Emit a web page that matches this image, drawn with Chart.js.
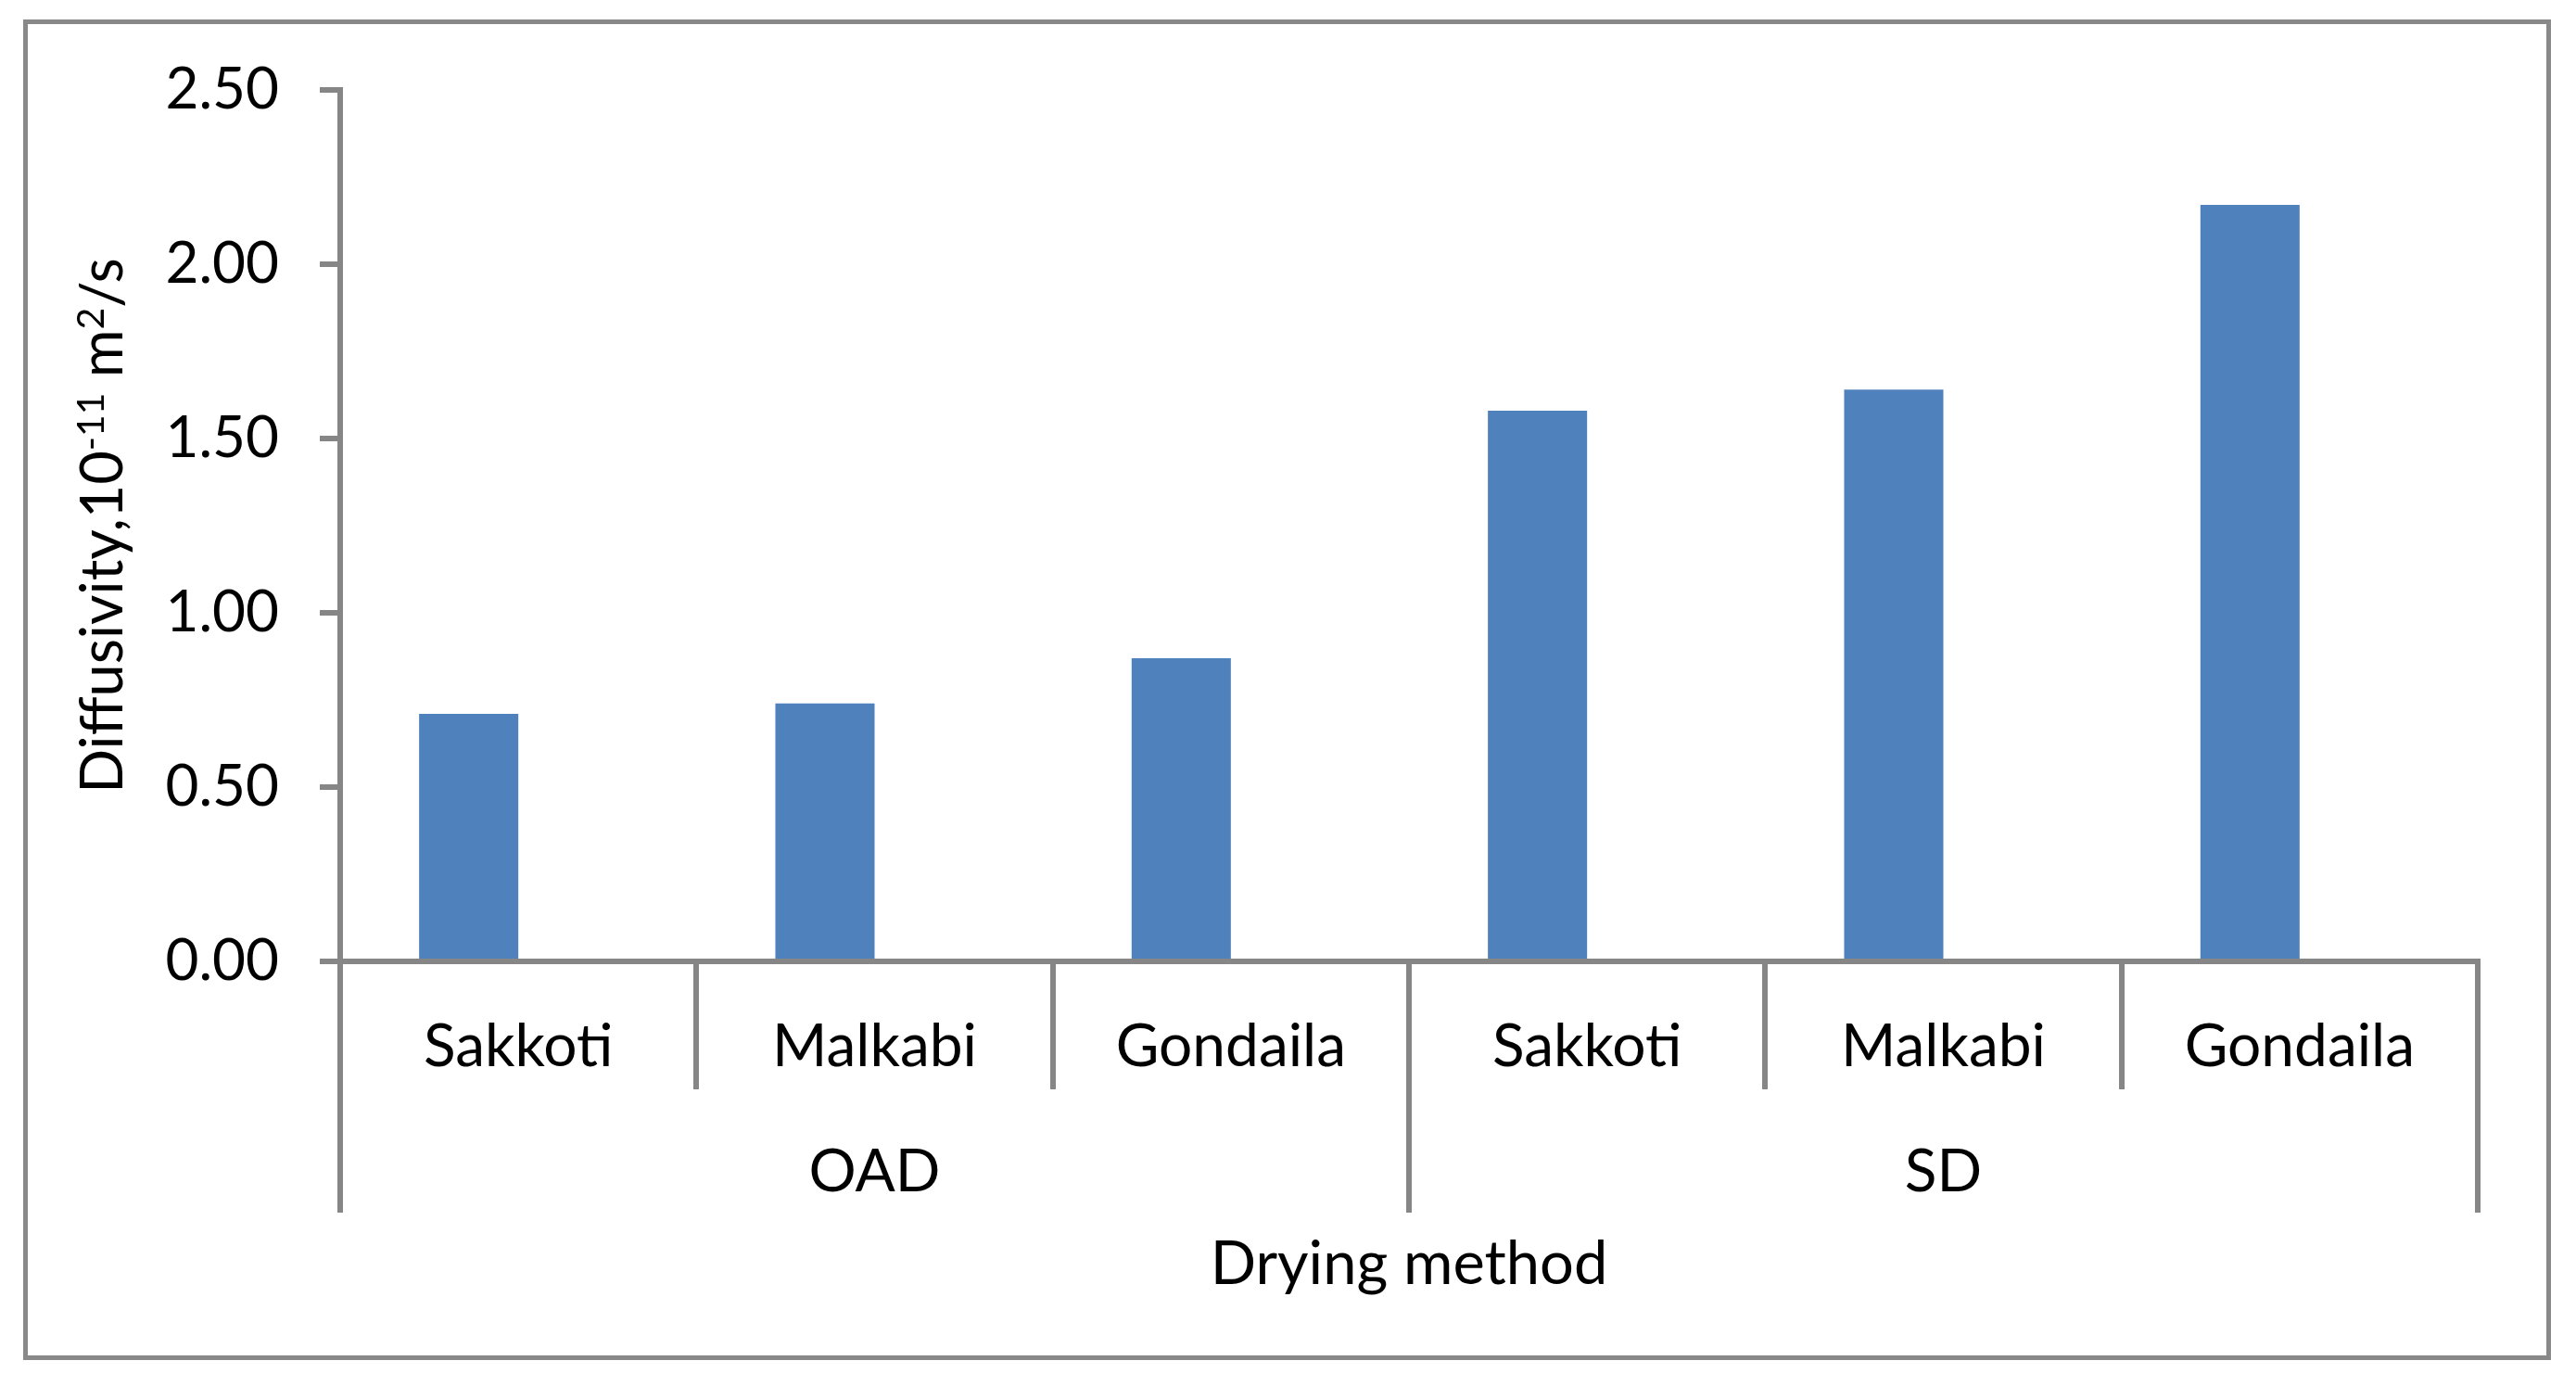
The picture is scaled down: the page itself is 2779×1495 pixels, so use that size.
<!DOCTYPE html>
<html>
<head>
<meta charset="utf-8">
<script src="https://cdn.jsdelivr.net/npm/chart.js@4.4.1/dist/chart.umd.min.js"></script>
<style>
  html, body { margin: 0; padding: 0; background: #fff; }
  #frame {
    position: absolute; left: 25px; top: 21px;
    width: 2727px; height: 1446px;
    box-sizing: border-box;
    border: 5px solid #898989;
  }
  #chart { display: block; }
</style>
</head>
<body>
<div id="frame"><canvas id="chart" width="2717" height="1436"></canvas></div>
<script>
// varieties along the x axis, grouped by drying method
const varieties = ['Sakkoti', 'Malkabi', 'Gondaila', 'Sakkoti', 'Malkabi', 'Gondaila'];
const methods = ['OAD', 'SD'];
const methodSpan = [3, 3];
// moisture diffusivity, 10^-11 m2/s
const diffusivity = [0.71, 0.74, 0.87, 1.58, 1.64, 2.17];
// second (empty) series of the original sheet, keeps bars left of centre
const blankSeries = [null, null, null, null, null, null];
const yTicks = [0, 0.5, 1, 1.5, 2, 2.5];

const grey = '#868686';
const fontFamily = 'Lato, "Open Sans", sans-serif';

// group labels, long dividers and the y title with superscripts
const hierarchy = {
  id: 'hierarchy',
  afterDraw(chart) {
    const { ctx, scales: { x, y } } = chart;
    const half = (x.getPixelForValue(1) - x.getPixelForValue(0)) / 2;
    const axisY = y.getPixelForValue(0);
    ctx.save();
    ctx.strokeStyle = grey;
    ctx.lineWidth = 6;
    ctx.fillStyle = '#000';
    ctx.font = '64px ' + fontFamily;
    ctx.textAlign = 'center';
    ctx.textBaseline = 'middle';
    let start = 0;
    const edges = [0];
    methods.forEach((m, i) => {
      const end = start + methodSpan[i];
      const cx = (x.getPixelForValue(start) + x.getPixelForValue(end - 1)) / 2;
      ctx.fillText(m, cx, axisY + 227);
      edges.push(end);
      start = end;
    });
    edges.forEach(e => {
      const px = Math.round(x.getPixelForValue(e) - half);
      ctx.beginPath();
      ctx.moveTo(px, axisY);
      ctx.lineTo(px, axisY + 271);
      ctx.stroke();
    });

    // y axis title
    const parts = [
      { t: 'Diffusivity,10', sup: false },
      { t: '-11', sup: true },
      { t: ' m', sup: false },
      { t: '2', sup: true },
      { t: '/s', sup: false }
    ];
    const big = '63px ' + fontFamily;
    const small = '41px ' + fontFamily;
    let total = 0;
    parts.forEach(p => {
      ctx.font = p.sup ? small : big;
      p.w = ctx.measureText(p.t).width;
      total += p.w;
    });
    ctx.translate(80, (y.top + y.bottom) / 2);
    ctx.rotate(-Math.PI / 2);
    ctx.textAlign = 'left';
    ctx.textBaseline = 'alphabetic';
    let cx = -total / 2;
    parts.forEach(p => {
      ctx.font = p.sup ? small : big;
      ctx.fillText(p.t, cx, p.sup ? 2 : 22);
      cx += p.w;
    });
    ctx.restore();
  }
};

new Chart(document.getElementById('chart'), {
  type: 'bar',
  data: {
    labels: varieties,
    datasets: [
      {
        label: 'Diffusivity',
        data: diffusivity,
        backgroundColor: '#4F81BD',
        borderWidth: 0,
        categoryPercentage: 0.557,
        barPercentage: 1
      },
      {
        label: '',
        data: blankSeries,
        backgroundColor: '#C0504D',
        categoryPercentage: 0.557,
        barPercentage: 1
      }
    ]
  },
  options: {
    responsive: false,
    animation: false,
    layout: { padding: { top: 71, right: 74, bottom: 0, left: 0 } },
    plugins: {
      legend: { display: false },
      tooltip: { enabled: false }
    },
    scales: {
      x: {
        afterFit: s => { s.height = 425; },
        grid: {
          offset: true,
          drawOnChartArea: false,
          color: grey,
          lineWidth: 6,
          tickLength: 138
        },
        border: { color: grey, width: 6 },
        ticks: {
          color: '#000',
          padding: -84,
          maxRotation: 0,
          autoSkip: false,
          font: { family: fontFamily, size: 64 }
        },
        title: {
          display: true,
          text: 'Drying method',
          color: '#000',
          padding: { top: 0, bottom: 59 },
          font: { family: fontFamily, size: 65 }
        }
      },
      y: {
        min: 0,
        max: 2.5,
        afterFit: s => { s.width = 337; s.paddingTop = 0; s.paddingBottom = 0; },
        afterBuildTicks: s => { s.ticks = yTicks.map(v => ({ value: v })); },
        grid: {
          drawOnChartArea: false,
          color: grey,
          lineWidth: 6,
          tickLength: 22
        },
        border: { color: grey, width: 6 },
        ticks: {
          color: '#000',
          padding: 44,
          font: { family: fontFamily, size: 62 },
          callback: v => v.toFixed(2)
        }
      }
    }
  },
  plugins: [hierarchy]
});
</script>
</body>
</html>
